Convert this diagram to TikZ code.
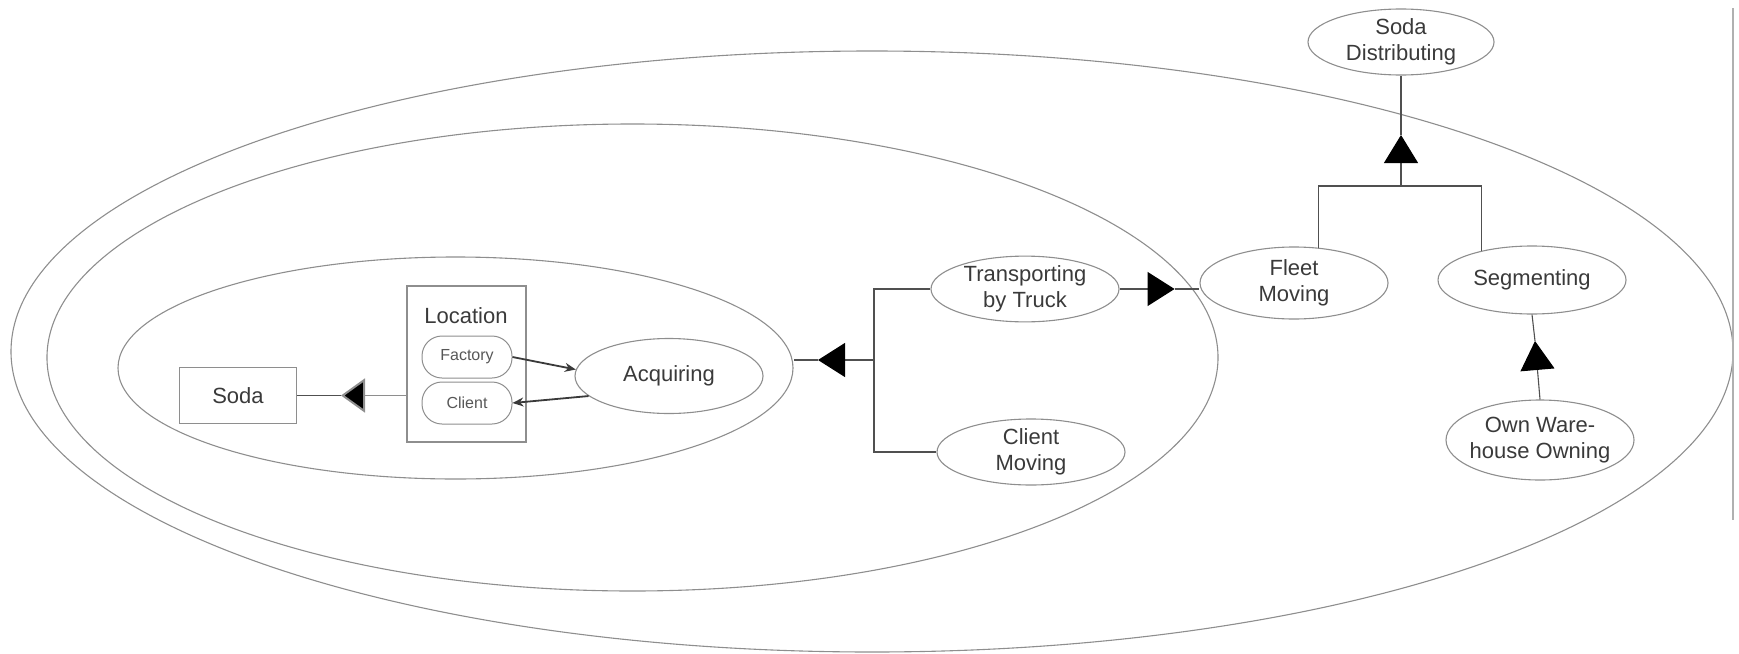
\documentclass[tikz,border=0pt]{standalone}
\usepackage{fontspec}
\setmainfont{Liberation Sans}
\usetikzlibrary{arrows.meta,shapes.geometric,calc}
\definecolor{ink}{HTML}{3A3A3A}
\definecolor{rim}{HTML}{8E8E8E}
\definecolor{wire}{HTML}{505050}
\begin{document}
\begin{tikzpicture}[x=1pt,y=-1pt,
  every node/.style={text=ink},
  proc/.style={ellipse, draw=rim, line width=1.1pt, minimum width=188pt,
    minimum height=70pt, inner xsep=-12pt, inner ysep=0pt, align=center,
    font=\fontsize{22}{26}\selectfont},
  group/.style={ellipse, draw=rim, line width=1.1pt, inner sep=0pt},
  objbox/.style={rectangle, draw=rim, line width=1.1pt, inner sep=0pt},
  statebox/.style={rectangle, rounded corners=20pt, draw=rim, line width=1pt,
    minimum width=90pt, minimum height=42pt, inner sep=0pt,
    font=\fontsize{16}{18}\selectfont, text=ink!85},
  link/.style={draw=wire, line width=1.1pt},
  flow/.style={draw=ink, line width=1.8pt, -{Stealth[length=11pt,width=9pt]}},
  headtip/.style={link, -{Triangle[length=#1, width=34pt, fill=black, color=black]}}
]
\useasboundingbox (0,0) rectangle (1739,653);

% nested system boundaries
\node[group, minimum width=1722pt, minimum height=601pt] (outer) at (872,351.5) {};
\node[group, minimum width=1171pt, minimum height=467pt] (middle) at (632.5,357.5) {};
\node[group, minimum width=675pt, minimum height=222pt] (inner) at (455.5,368) {};

% edge of the sheet
\draw[rim!70, line width=1.5pt] (1733,8) -- (1733,520);

% objects
\node[objbox, minimum width=117pt, minimum height=56pt,
      font=\fontsize{22}{26}\selectfont] (soda) at (238,395.5) {Soda\hspace{14pt}};
\node[objbox, minimum width=119pt, minimum height=156pt] (loc) at (466.5,364) {};
\node[font=\fontsize{22}{26}\selectfont] (loctitle) at (466,316) {Location};
\node[statebox] (fac) at (467,357) {Factory};
\node[statebox] (cli) at (467,403) {Client};

% processes
\node[proc, minimum height=75pt] (acq) at (669,376) {Acquiring};
\node[proc, minimum height=65pt] (trans) at (1025,289) {Transporting\\by Truck};
\node[proc, minimum height=66pt] (cmove) at (1031,452) {Client\\Moving};
\node[proc, minimum height=72pt] (fleet) at (1294,283) {Fleet\\Moving};
\node[proc, minimum height=68pt] (seg) at (1532,280) {Segmenting};
\node[proc, minimum height=80pt] (own) at (1540,440) {Own Ware-\\house Owning};
\node[proc, minimum height=66pt, minimum width=186pt] (sd) at (1401,42) {Soda\\Distributing};

% Location exhibits Soda
\coordinate (tipA) at (341,395.5);
\draw[link] (tipA) -- (soda.east);
\draw[draw=rim, line width=1.1pt,
      -{Triangle[length=24pt, width=34pt, fill=black, line width=2pt]}]
      (loc.west |- tipA) -- (tipA);

% Acquiring changes Location
\draw[flow] (fac.east) -- (acq.176);
\draw[flow] (acq.194) -- (cli.east);

% Transporting by Truck and Client Moving specialise the inner system
\coordinate (fork) at (874,360);
\coordinate (tipB) at (818,360);
\draw[link] (trans.west) -| (fork) |- (cmove.west);
\draw[headtip=27pt] (fork) -- (tipB);
\draw[link] (tipB) -- (inner.east |- tipB);

% Transporting by Truck specialises Fleet Moving
\coordinate (tipC) at ($(trans.east)+(55,0)$);
\draw[headtip=27pt] (trans.east) -- (tipC);
\draw[link] (tipC) -- (fleet.west |- tipC);

% Soda Distributing consists of Fleet Moving and Segmenting
\coordinate (bar) at (1401,186);
\coordinate (tipD) at (1401,135);
\draw[link] (fleet.55) |- (bar) -| (seg.150);
\draw[headtip=28pt] (bar) -- (tipD);
\draw[link] (tipD) -- (sd.south);

% Own Warehouse Owning specialises Segmenting
\coordinate (tipE) at (1535,341);
\draw[headtip=29pt] (own.north) -- (tipE);
\draw[link] (tipE) -- (seg.south);
\end{tikzpicture}
\end{document}
